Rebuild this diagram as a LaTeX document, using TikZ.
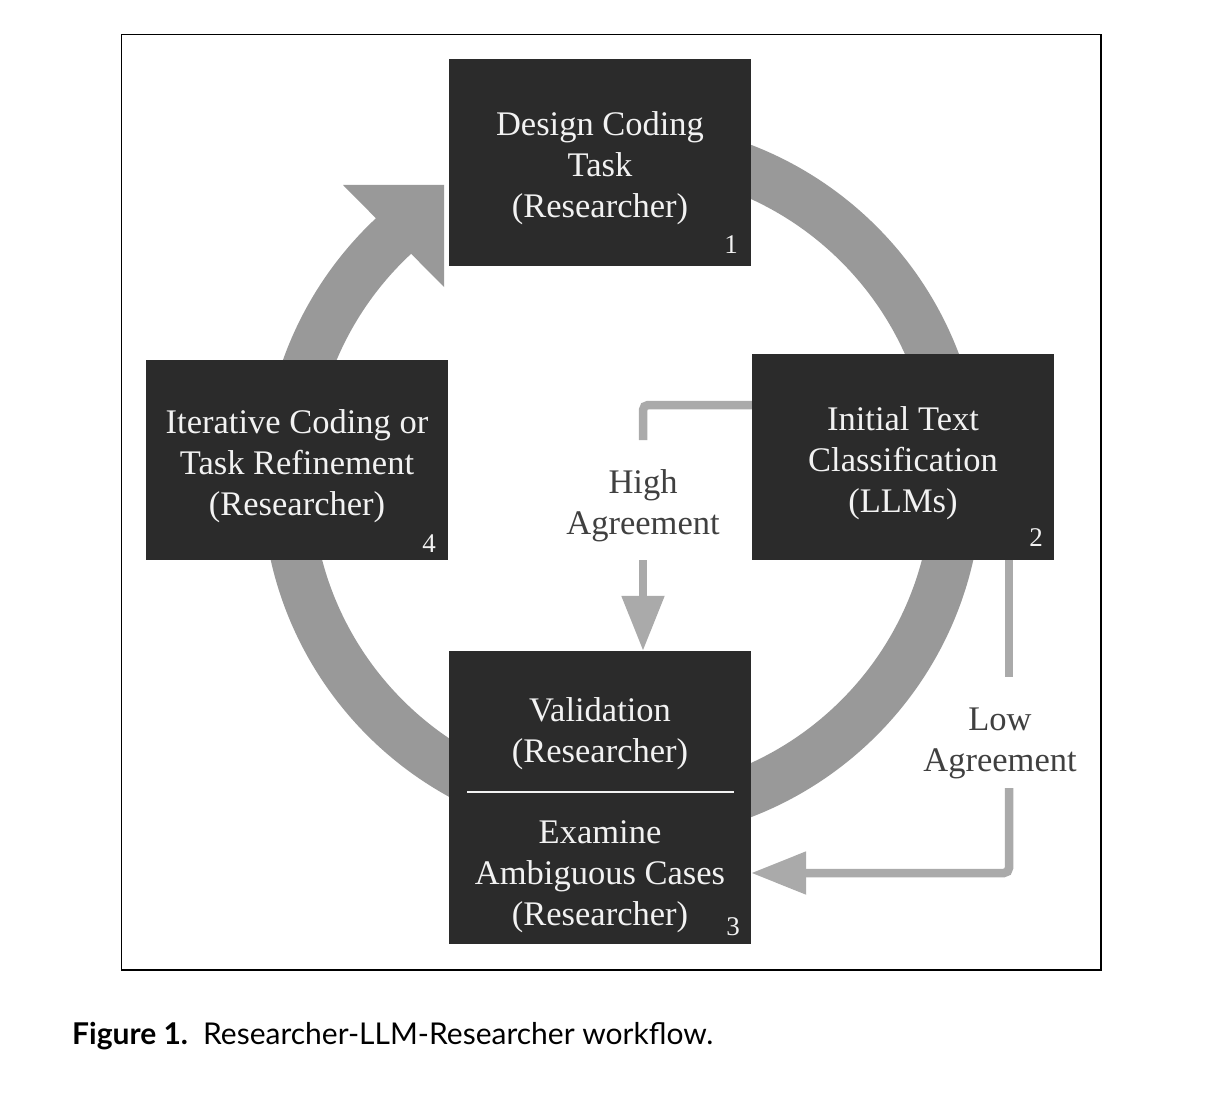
\documentclass[tikz,border=0pt]{standalone}
\usepackage{fontspec}
\setmainfont{Liberation Serif}
\newfontfamily\capfont{Lato}
\usetikzlibrary{arrows.meta}
\definecolor{boxfill}{HTML}{2B2B2B}
\definecolor{ringgray}{HTML}{999999}
\definecolor{conngray}{HTML}{AAAAAA}
\definecolor{labelgray}{HTML}{404040}
\definecolor{boxtext}{HTML}{F2F2F2}
\begin{document}
\begin{tikzpicture}[x=1pt,y=-1pt,
  box/.style={fill=boxfill, draw=none, minimum width=302pt, inner sep=0pt},
  boxnum/.style={text=boxtext, font=\fontsize{27}{30}\selectfont, inner sep=0pt},
  boxlbl/.style={text=boxtext, align=center, font=\fontsize{34.5}{41}\selectfont, inner sep=0pt},
  conn/.style={draw=conngray, line width=8.5pt},
  lbl/.style={text=labelgray, align=center, font=\fontsize{34.5}{41}\selectfont, inner sep=0pt},
  ring/.style={draw=ringgray, line width=50pt},
  headtip/.style={-{Triangle[width=41pt,length=55pt]}}
]
\useasboundingbox (0,0) rectangle (1212,1094);
\draw[line width=1.5pt] (121.5,34.5) rectangle (1101,970);
% cycle ring
\coordinate (c) at (622,481);
\draw[ring] (c) ++(-90:335) arc[start angle=-90, end angle=228.5, radius=335];
\fill[ringgray] (343,185) -- (444,185) -- (444,287) -- cycle;
% boxes
\node[box, minimum height=207pt] (b1) at (600,162.5) {};
\node[box, minimum height=206pt] (b2) at (903,457) {};
\node[box, minimum height=200pt] (b4) at (297,460) {};
\node[box, minimum height=293pt] (b3) at (600,797.5) {};
\node[boxlbl] (t1) at ([yshift=-6pt]b1.center) {Design Coding\\Task\\(Researcher)};
\node[boxlbl] (t2) at ([yshift=-6pt]b2.center) {Initial Text\\Classification\\(LLMs)};
\node[boxlbl] (t4) at ([yshift=-6pt]b4.center) {Iterative Coding or\\Task Refinement\\(Researcher)};
\node[boxlbl] (v) at (600,734) {Validation\\(Researcher)};
\node[boxlbl] (e) at (600,877) {Examine\\Ambiguous Cases\\(Researcher)};
\draw[boxtext, line width=1.5pt] (467,792) -- (734,792);
% numbers
\node[boxnum] (n1) at (731,245) {1};
\node[boxnum] (n2) at (1036,538) {2};
\node[boxnum] (n3) at (733,927) {3};
\node[boxnum] (n4) at (429,544) {4};
% high agreement
\coordinate (h1) at (643,405);
\coordinate (h2) at (643,440);
\draw[conn, rounded corners=5pt] (b2.west |- h1) -- (h1) -- (h2);
\node[lbl] (hl) at (643,506) {High\\Agreement};
\coordinate (h3) at (643,560);
\draw[conn, headtip] (h3) -- (h3 |- b3.north);
% low agreement
\coordinate (l1) at (1009,677);
\draw[conn] (l1 |- b2.south) -- (l1);
\node[lbl] (ll) at (1000,743) {Low\\Agreement};
\coordinate (l2) at (1009,788);
\coordinate (l3) at (1009,873);
\draw[conn, rounded corners=5pt, headtip] (l2) -- (l3) -- (l3 -| b3.east);
% caption
\node[anchor=base west, inner sep=0pt, font=\capfont\fontsize{30}{34}\selectfont] (cap) at (72,1044) {\textbf{Figure 1.}\hspace{0.5em}Researcher-LLM-Researcher workflow.};
\end{tikzpicture}
\end{document}
